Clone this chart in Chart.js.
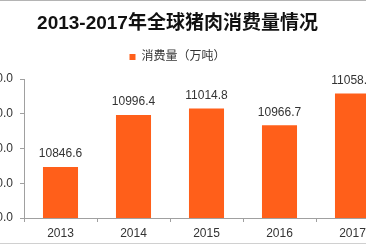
<!DOCTYPE html>
<html lang="zh">
<head>
    <meta charset="UTF-8">
    <title>2013-2017年全球猪肉消费量情况</title>
    <script src="https://cdn.jsdelivr.net/npm/chart.js"></script>
    <style>
        html, body {
            margin: 0;
            padding: 0;
            background: #fff;
            overflow: hidden;
        }
        body {
            width: 366px;
            height: 248px;
            position: relative;
        }
        /* the chart is wider than the window, so both sides get clipped */
        #wrap {
            position: absolute;
            left: -34px;
            top: 0;
            width: 434px;
            height: 248px;
        }
        .edge {
            position: absolute;
            left: 0;
            width: 366px;
            height: 1px;
            background: #b4b4b4;
        }
    </style>
</head>
<body>
    <div id="wrap"><canvas id="chart" width="434" height="248"></canvas></div>
    <div class="edge" style="top:0"></div>
    <div class="edge" style="top:243px;background:#d0d0d0"></div>

    <script>
        // chart data
        const years = ['2013', '2014', '2015', '2016', '2017'];
        const consumption = [10846.6, 10996.4, 11014.8, 10966.7, 11058.2];
        const yTicks = [10700, 10800, 10900, 11000, 11100];

        const FONT = "'Liberation Sans', 'Noto Sans CJK SC', sans-serif";
        const barColor = '#ff5f1a';

        // a bit more room between the legend and the plot
        const legendGap = {
            id: 'legendGap',
            beforeInit(chart) {
                const fit = chart.legend.fit;
                chart.legend.fit = function () {
                    fit.call(this);
                    this.height += 6;
                };
            }
        };

        // draw the value above each bar
        const valueLabels = {
            id: 'valueLabels',
            afterDatasetsDraw(chart) {
                const ctx = chart.ctx;
                const meta = chart.getDatasetMeta(0);
                ctx.save();
                ctx.font = '12px ' + FONT;
                ctx.fillStyle = '#333';
                ctx.textAlign = 'center';
                ctx.textBaseline = 'bottom';
                meta.data.forEach((bar, i) => {
                    ctx.fillText(consumption[i].toFixed(1), bar.x, bar.y - 7);
                });
                ctx.restore();
            }
        };

        new Chart(document.getElementById('chart'), {
            type: 'bar',
            data: {
                labels: years,
                datasets: [{
                    label: '消费量（万吨）',
                    data: consumption,
                    backgroundColor: barColor,
                    borderWidth: 0,
                    barPercentage: 0.48,
                    categoryPercentage: 1
                }]
            },
            options: {
                responsive: false,
                animation: false,
                layout: {
                    padding: { left: 0, right: 11, top: 0, bottom: 2.6 }
                },
                plugins: {
                    title: {
                        display: true,
                        text: '2013-2017年全球猪肉消费量情况',
                        color: '#111',
                        font: { family: FONT, size: 19, weight: 'bold' },
                        padding: { top: 12.6, bottom: 5.6 }
                    },
                    legend: {
                        display: true,
                        position: 'top',
                        labels: {
                            color: '#333',
                            font: { family: FONT, size: 12 },
                            boxWidth: 6,
                            boxHeight: 6
                        }
                    },
                    tooltip: { enabled: false }
                },
                scales: {
                    x: {
                        grid: {
                            drawOnChartArea: false,
                            drawTicks: true,
                            tickLength: 4,
                            color: '#a0a0a0'
                        },
                        border: { color: '#a0a0a0' },
                        ticks: {
                            color: '#333',
                            font: { family: FONT, size: 12 },
                            padding: 4.5
                        }
                    },
                    y: {
                        min: 10700,
                        max: 11100,
                        afterBuildTicks(scale) {
                            scale.ticks = yTicks.map(v => ({ value: v }));
                        },
                        afterFit(scale) {
                            scale.width = 58;
                        },
                        grid: {
                            drawOnChartArea: false,
                            drawTicks: true,
                            tickLength: 4,
                            color: '#a0a0a0'
                        },
                        border: { color: '#a0a0a0' },
                        ticks: {
                            color: '#333',
                            font: { family: FONT, size: 12 },
                            padding: 7,
                            callback: v => Number(v).toFixed(1)
                        }
                    }
                }
            },
            plugins: [legendGap, valueLabels]
        });
    </script>
</body>
</html>
